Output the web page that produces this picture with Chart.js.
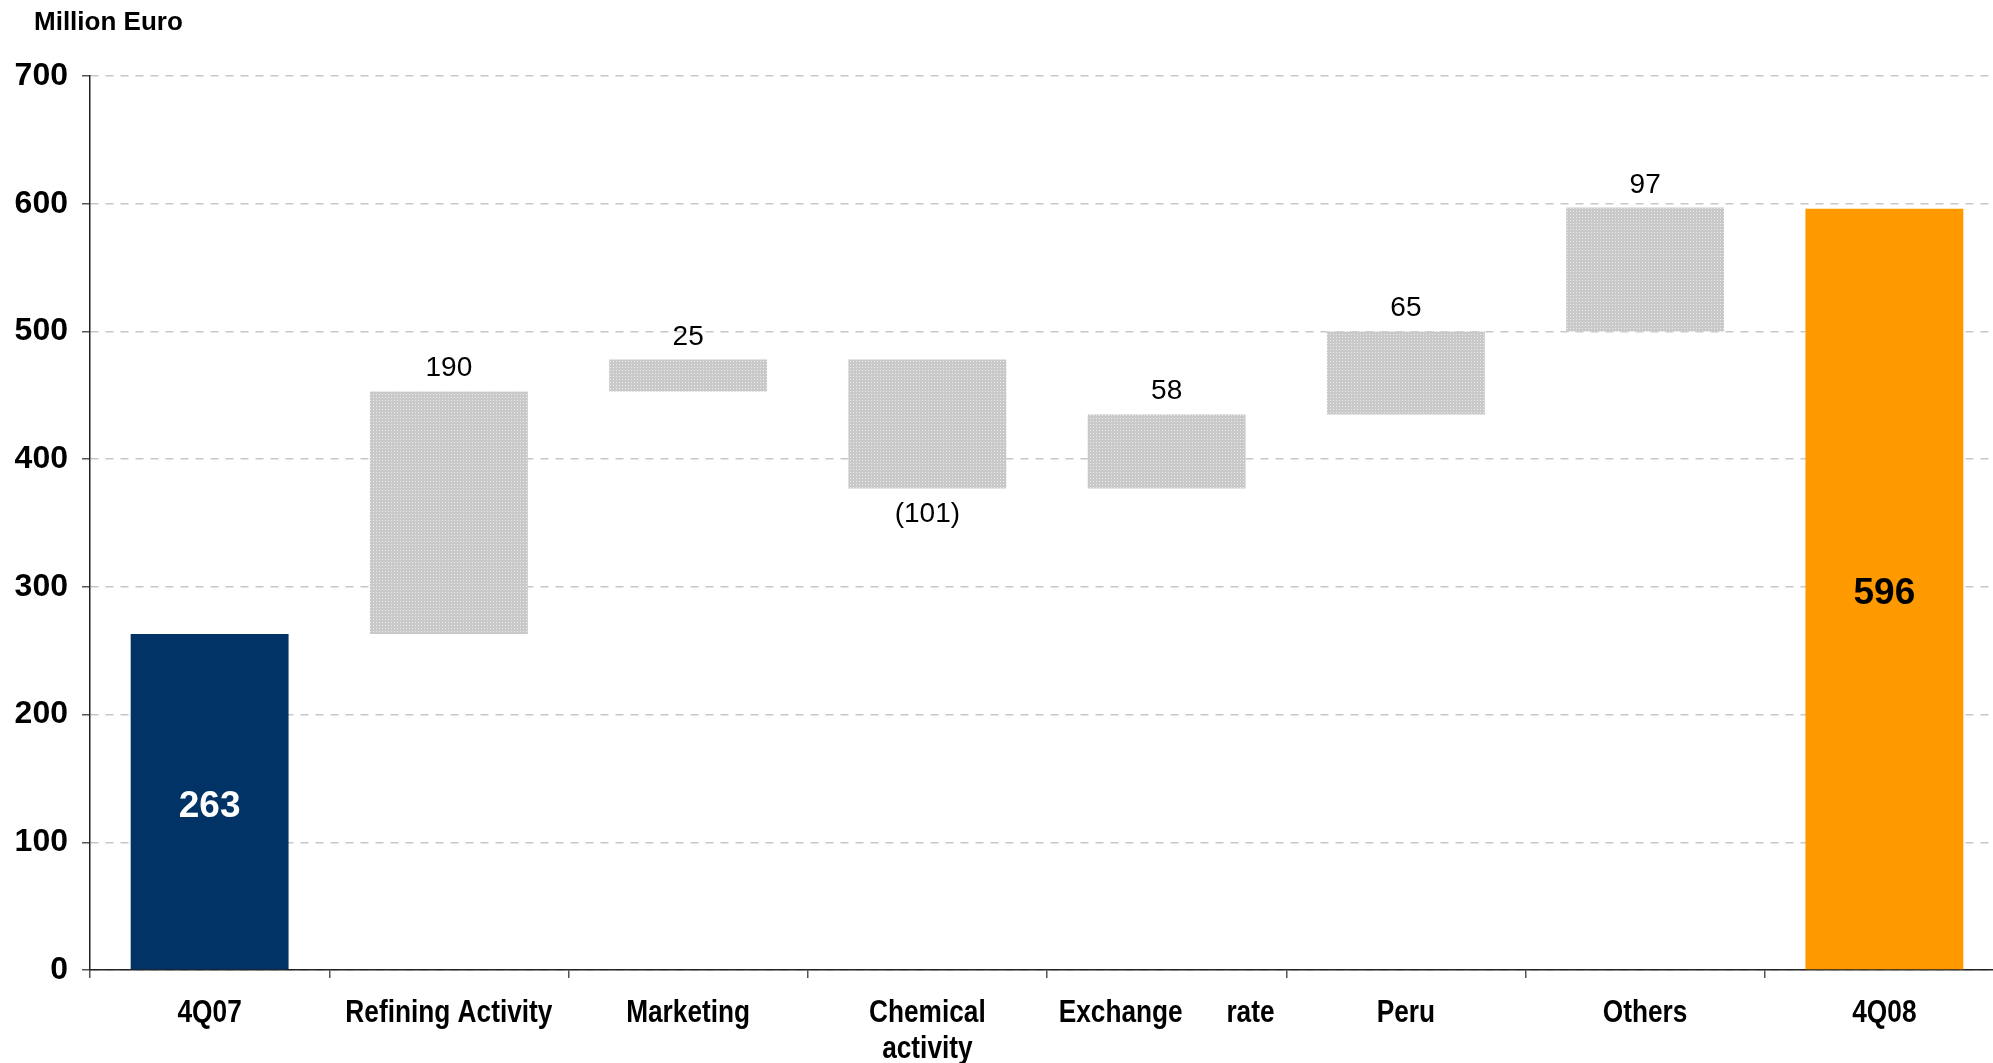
<!DOCTYPE html>
<html>
<head>
<meta charset="utf-8">
<script src="https://cdn.jsdelivr.net/npm/chart.js@4.4.1/dist/chart.umd.min.js"></script>
<style>
html, body { margin: 0; padding: 0; background: #fff; overflow: hidden; }
#wrap { position: relative; width: 2004px; height: 1063px; }
#unit { position: absolute; left: 34px; top: 6px; line-height: 30px; font: bold 26px 'Liberation Sans', Arial, sans-serif; color: #000; }
</style>
</head>
<body>
<div id="wrap">
  <div id="unit">Million Euro</div>
  <canvas id="waterfall"></canvas>
</div>
<script>
// values
var categories = ['4Q07', 'Refining Activity', 'Marketing', ['Chemical', 'activity'], 'Exchange      rate', 'Peru', 'Others', '4Q08'];
var values = [263, 190, 25, -101, 58, 65, 97, 596];
var kinds = ['total', 'delta', 'delta', 'delta', 'delta', 'delta', 'delta', 'total'];
var yTicks = [0, 100, 200, 300, 400, 500, 600, 700];

// dotted grey fill for the change bars
function dotPattern() {
  var c = document.createElement('canvas');
  c.width = 3; c.height = 3;
  var g = c.getContext('2d');
  g.fillStyle = '#c9c9c9';
  g.fillRect(0, 0, 3, 3);
  g.fillStyle = '#ececec';
  g.fillRect(1, 1, 1, 1);
  return g.createPattern(c, 'repeat');
}
var grey = dotPattern();

// floating bars: totals start at zero, changes start where the last one ended
var ranges = [];
var running = 0;
values.forEach(function (v, i) {
  if (kinds[i] === 'total') {
    ranges.push([0, v]);
    running = v;
  } else {
    ranges.push([running, running + v]);
    running += v;
  }
});

var colors = values.map(function (v, i) {
  if (kinds[i] === 'delta') return grey;
  return i === 0 ? '#023366' : '#ff9900';
});

var valueLabels = {
  id: 'valueLabels',
  afterDatasetsDraw: function (chart) {
    var ctx = chart.ctx;
    var meta = chart.getDatasetMeta(0);
    meta.data.forEach(function (bar, i) {
      var v = values[i];
      ctx.save();
      ctx.textAlign = 'center';
      if (kinds[i] === 'total') {
        ctx.font = 'bold 37px "Liberation Sans", Arial, sans-serif';
        ctx.fillStyle = i === 0 ? '#fff' : '#000';
        ctx.textBaseline = 'middle';
        ctx.fillText(String(v), bar.x, (bar.y + bar.base) / 2 + 5);
      } else {
        ctx.font = '28px "Liberation Sans", Arial, sans-serif';
        ctx.fillStyle = '#000';
        ctx.textBaseline = 'alphabetic';
        if (v >= 0) {
          ctx.fillText(String(v), bar.x, Math.min(bar.y, bar.base) - 15);
        } else {
          ctx.fillText('(' + (-v) + ')', bar.x, Math.max(bar.y, bar.base) + 33);
        }
      }
      ctx.restore();
    });
  }
};

// category names in a narrow bold face (squeezed horizontally)
var categoryLabels = {
  id: 'categoryLabels',
  afterDraw: function (chart) {
    var xs = chart.scales.x;
    var ctx = chart.ctx;
    ctx.save();
    ctx.font = 'bold 32px "Liberation Sans", Arial, sans-serif';
    ctx.fillStyle = '#000';
    ctx.textAlign = 'center';
    ctx.textBaseline = 'alphabetic';
    categories.forEach(function (label, i) {
      var lines = Array.isArray(label) ? label : [label];
      var x = xs.getPixelForTick(i);
      lines.forEach(function (line, k) {
        ctx.save();
        ctx.translate(x, xs.top + 52 + k * 36);
        ctx.scale(0.82, 1);
        ctx.fillText(line, 0, 0);
        ctx.restore();
      });
    });
    ctx.restore();
  }
};

var ctx = document.getElementById('waterfall').getContext('2d');
var myChart = new Chart(ctx, {
  type: 'bar',
  data: {
    labels: categories,
    datasets: [{
      data: ranges,
      backgroundColor: colors,
      borderWidth: 0,
      barPercentage: 0.66,
      categoryPercentage: 1
    }]
  },
  options: {
    responsive: true,
    maintainAspectRatio: false,
    animation: false,
    layout: { padding: { top: 76, left: 12, right: 0, bottom: 0 } },
    plugins: { legend: { display: false }, tooltip: { enabled: false } },
    scales: {
      x: {
        afterFit: function (axis) { axis.height = 93; },
        grid: { offset: true, drawOnChartArea: false, drawTicks: true, tickLength: 8, tickColor: '#555', lineWidth: 1.5 },
        border: { color: '#222', width: 1.5 },
        ticks: { display: false }
      },
      y: {
        min: yTicks[0],
        max: yTicks[yTicks.length - 1],
        afterBuildTicks: function (axis) {
          axis.ticks = yTicks.map(function (t) { return { value: t }; });
        },
        afterFit: function (axis) { axis.width = 78; },
        grid: { color: '#c8c8c8', lineWidth: 1.5, tickLength: 8, tickColor: '#555', tickBorderDash: [] },
        border: { color: '#222', width: 1.5, dash: [8, 7] },
        ticks: {
          color: '#000',
          padding: 14,
          font: { family: "'Liberation Sans', Arial, sans-serif", size: 32, weight: 'bold' }
        }
      }
    }
  },
  plugins: [valueLabels, categoryLabels]
});
</script>
</body>
</html>
